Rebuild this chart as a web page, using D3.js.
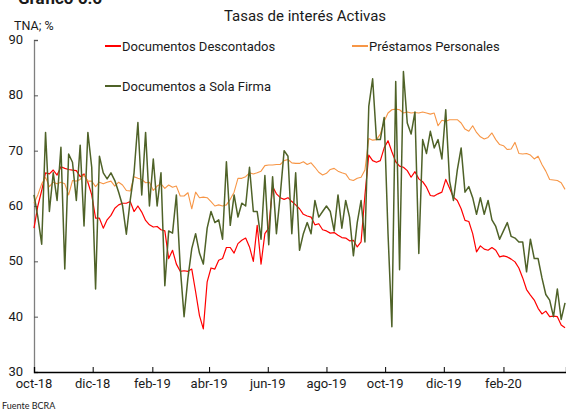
<!DOCTYPE html>
<html>
<head>
<meta charset="utf-8">
<script src="https://cdn.jsdelivr.net/npm/d3@7"></script>
<style>
  body { margin: 0; background: #fff; }
  svg text { font-family: Roboto, "Liberation Sans", sans-serif; fill: #1a1a1a; }
</style>
</head>
<body>
<div id="chart"></div>
<script>
// one reading every 4 calendar days, starting 1 Oct 2018
const startDate = new Date(2018, 9, 1);
const stepDays = 4;

const descontados = [
  56, 60, 62.8, 66, 65.8, 66.5, 65.6, 67.1, 66.8, 66.6,
  66.5, 66.4, 65.3, 65.8, 64.3, 62, 57.8, 57.8, 56, 57.5,
  58.3, 59.6, 60.2, 60.5, 60.5, 60.8, 59, 60, 58.9, 57.4,
  56.6, 56.2, 56.3, 55.7, 55.5, 50.5, 52, 49.5, 48.2, 48.3,
  48.2, 48.6, 44.5, 40.2, 37.8, 46.3, 48.8, 48.6, 50.2, 50.5,
  52.5, 52.5, 51.5, 53.2, 53.8, 54.2, 52.6, 50, 56.5, 49.5,
  55, 56, 63.5, 62.2, 61.5, 61.2, 61.5, 60.8, 60.2, 59.5,
  58.5, 58.2, 58, 56.6, 56.8, 55.7, 55.5, 55.1, 55.2, 54.7,
  54.3, 54.2, 53.7, 53.8, 52.6, 53.5, 62, 69.2, 68.2, 67.9,
  68.2, 70.5, 71.8, 69.8, 68, 67.2, 67, 66.4, 65.2, 66.2,
  64.9, 64.4, 63.4, 61.9, 61.8, 62.2, 62.5, 64.8, 63.2, 61.6,
  61, 59.5, 57.4, 57.2, 55, 51.7, 52.8, 52.2, 52, 52.5,
  52, 50.8, 51, 50.8, 50.4, 49.9, 48.8, 47, 44.9, 43.9,
  43, 41.5, 40.5, 41, 40, 40.1, 40, 38.5, 38
];

const personales = [
  60.5, 62, 64, 65.2, 63.5, 64.3, 64, 64.3, 64, 62,
  64.6, 64.5, 64.8, 65.6, 64.5, 64.5, 63.5, 64.3, 64, 64.3,
  64.5, 63.6, 64.3, 63.8, 62.8, 62.7, 65.3, 65, 64.8, 64.2,
  64.3, 62.8, 63.6, 64, 63.2, 63.8, 63.4, 63.6, 61.8, 61.8,
  62.4, 59.5, 62.5, 61.5, 61.6, 61.5, 60.8, 60, 60.2, 60,
  60.2, 61.2, 62.5, 65, 65, 65.3, 66, 65.8, 66, 66.3,
  67.3, 67.4, 67.4, 67.5, 67.5, 68.2, 68.4, 67.8, 67.7, 67.7,
  68, 67.5, 67.8, 67, 66.1, 65.6, 65.9, 66.6, 66.8, 66.3,
  66, 65.8, 64.8, 64.6, 65, 65.2, 66.5, 72.2, 71.9, 72,
  73, 75.3, 76.8, 77.4, 77.5, 77.4, 76.8, 77, 76.8, 76.9,
  76.8, 77, 76.8, 76.6, 76.8, 74.5, 75.5, 75.3, 75.6, 75.6,
  75.6, 75, 73.9, 73.5, 74.5, 73.3, 72.5, 72.1, 72.4, 73.2,
  72, 71.1, 70.9, 70.2, 70.3, 71.5, 69.5, 69.4, 69.5, 69.2,
  68.5, 69, 67.5, 66.3, 64.8, 64.7, 64.6, 64.2, 63
];

const solaFirma = [
  62, 58, 53.1, 73.3, 59, 66, 61, 70.6, 48.6, 69.4,
  67.9, 61, 71, 56.4, 73.3, 67, 45, 69, 66, 64.9,
  66, 64.6, 62.5, 60.1, 54.9, 61, 66, 75.1, 62, 73.3,
  60, 68.5, 60, 66, 45.6, 55.5, 55.1, 62, 49, 40,
  47, 52.3, 55, 51.5, 49.5, 56, 59, 57, 57.5, 54,
  68, 56.5, 62, 58, 60.5, 60, 67, 59, 59, 54,
  65.5, 53, 65.3, 55, 62, 70, 69, 55, 66, 52,
  55, 57, 55, 61, 58, 59, 60, 59, 55.5, 62,
  56, 61, 58, 51, 57, 61, 53.5, 78, 83, 72,
  72, 76, 55, 38.2, 82.5, 48.5, 84.3, 75, 73, 77,
  51.4, 72, 69.5, 73.5, 70.5, 72, 68.5, 77.4, 64.5, 61,
  66.5, 70.5, 62.5, 63.5, 61.5, 58.5, 61.5, 58.5, 61, 57.5,
  56.3, 54, 55.5, 57, 54.5, 54.2, 53.5, 53.5, 48.1, 54,
  50.5, 50.5, 47, 44, 43, 40, 45, 39.5, 42.5
];

const seriesNames = ["Documentos Descontados", "Préstamos Personales", "Documentos a Sola Firma"];
const seriesColors = ["#ff0000", "#f79646", "#4f6228"];
const yTicks = [30, 40, 50, 60, 70, 80, 90];
const monthNames = ["ene", "feb", "mar", "abr", "may", "jun", "jul", "ago", "sep", "oct", "nov", "dic"];

const width = 566, height = 412;

let svg = d3.select("#chart").append("svg")
    .attr("width", width)
    .attr("height", height);

let dates = descontados.map((d, i) => d3.timeDay.offset(startDate, i * stepDays));

let xScale = d3.scaleTime()
    .domain([startDate, new Date(2020, 3, 6)])
    .range([34, 566]);
let yScale = d3.scaleLinear()
    .domain([30, 90])
    .range([372, 40]);

let es = d3.timeFormatLocale({
    dateTime: "%d/%m/%Y", date: "%d/%m/%Y", time: "%H:%M:%S",
    periods: ["AM", "PM"],
    days: ["domingo", "lunes", "martes", "miércoles", "jueves", "viernes", "sábado"],
    shortDays: ["dom", "lun", "mar", "mié", "jue", "vie", "sáb"],
    months: monthNames, shortMonths: monthNames
});

// header, partly cut off at the top
svg.append("text")
    .attr("x", 18).attr("y", 4)
    .style("font-size", "17px").style("font-weight", "bold")
    .text("Gráfico 6.6");

svg.append("text")
    .attr("x", 305).attr("y", 21)
    .style("text-anchor", "middle")
    .style("font-size", "15px")
    .text("Tasas de interés Activas");

svg.append("text")
    .attr("x", 14).attr("y", 30)
    .style("font-size", "12.5px")
    .text("TNA; %");

/** axes */
let yAxis = d3.axisRight(yScale).tickValues(yTicks).tickSize(4).tickFormat("");
let yAx = svg.append("g")
    .attr("transform", "translate(34,0)")
    .call(yAxis);
yAx.select(".domain").attr("stroke", "#7f7f7f").attr("stroke-width", 1.3);
yAx.selectAll(".tick line").attr("stroke", "#555");

svg.selectAll(".ylab")
    .data(yTicks)
    .enter().append("text")
    .attr("class", "ylab")
    .attr("x", 23)
    .attr("y", d => yScale(d) + 4)
    .style("text-anchor", "end")
    .style("font-size", "13px")
    .text(d => d);

let xTickDates = d3.timeMonth.range(startDate, new Date(2020, 2, 1), 2);
let xAxis = d3.axisTop(xScale).tickValues(xTickDates).tickSize(5).tickFormat("");
let xAx = svg.append("g")
    .attr("transform", "translate(0,372)")
    .call(xAxis);
xAx.select(".domain").attr("stroke", "#000").attr("stroke-width", 1.3);
xAx.selectAll(".tick line").attr("stroke", "#000");

let fmt = es.format("%b-%y");
svg.selectAll(".xlab")
    .data(xTickDates)
    .enter().append("text")
    .attr("class", "xlab")
    .attr("x", d => xScale(d))
    .attr("y", 388)
    .style("text-anchor", "middle")
    .style("font-size", "13px")
    .text(d => fmt(d));

/** lines */
let allSeries = [descontados, personales, solaFirma];
let widths = [1.2, 1.1, 1.5];
let line = d3.line()
    .x((d, i) => xScale(dates[i]))
    .y(d => yScale(d));

allSeries.forEach((s, k) => {
    svg.append("path")
        .datum(s)
        .attr("fill", "none")
        .attr("stroke", seriesColors[k])
        .attr("stroke-width", widths[k])
        .attr("stroke-linejoin", "round")
        .attr("d", line);
});

/** legend */
let legendPos = [[105, 46], [352, 46], [105, 86]];
seriesNames.forEach((name, k) => {
    let p = legendPos[k];
    svg.append("line")
        .attr("x1", p[0]).attr("x2", p[0] + 16)
        .attr("y1", p[1]).attr("y2", p[1])
        .attr("stroke", seriesColors[k])
        .attr("stroke-width", 2);
    svg.append("text")
        .attr("x", p[0] + 17).attr("y", p[1] + 4.5)
        .style("font-size", "13px")
        .text(name);
});

svg.append("text")
    .attr("x", 2).attr("y", 409)
    .style("font-family", "Lato, sans-serif")
    .style("font-size", "9px")
    .text("Fuente BCRA");
</script>
</body>
</html>
